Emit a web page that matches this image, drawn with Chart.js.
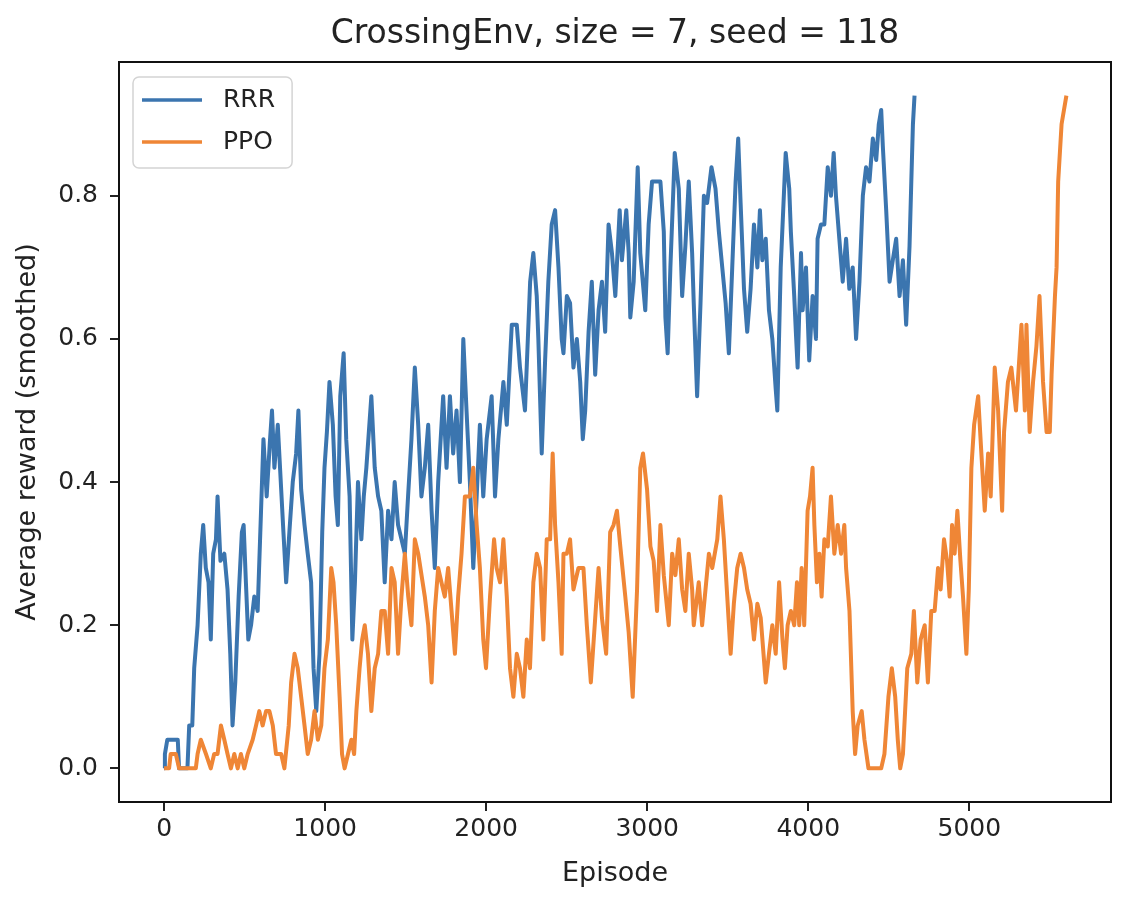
<!DOCTYPE html>
<html>
<head>
<meta charset="utf-8">
<title>CrossingEnv, size = 7, seed = 118</title>
<script src="https://cdn.jsdelivr.net/npm/chart.js@4.4.1/dist/chart.umd.min.js"></script>
<style>
  html, body { margin: 0; padding: 0; background: #fff; }
  #wrap { width: 1128px; height: 904px; }
</style>
</head>
<body>
<div id="wrap"><canvas id="grafico" width="1128" height="904"></canvas></div>
<script>
// [episode, smoothed reward]
const rrrData = [
  [0,0],[5,0.02],[20,0.04],[85,0.04],[93,0],[145,0],[156,0.06],[175,0.06],[187,0.14],[208,0.2],
  [228,0.3],[243,0.34],[259,0.28],[276,0.26],[290,0.18],[305,0.3],[322,0.32],[332,0.38],[350,0.29],[374,0.3],
  [394,0.25],[411,0.16],[425,0.06],[442,0.12],[463,0.24],[483,0.33],[494,0.34],[508,0.26],[523,0.18],[540,0.2],
  [560,0.24],[581,0.22],[602,0.36],[617,0.46],[637,0.38],[658,0.46],[670,0.5],[685,0.42],[706,0.48],[727,0.39],
  [741,0.33],[758,0.26],[778,0.33],[799,0.4],[820,0.44],[834,0.5],[851,0.39],[872,0.34],[892,0.3],[913,0.26],
  [928,0.14],[945,0.08],[965,0.16],[982,0.33],[996,0.42],[1011,0.47],[1027,0.54],[1048,0.48],[1065,0.38],[1079,0.34],
  [1094,0.52],[1115,0.58],[1131,0.46],[1152,0.38],[1169,0.18],[1185,0.26],[1204,0.4],[1225,0.32],[1240,0.38],[1256,0.42],
  [1287,0.52],[1308,0.42],[1329,0.38],[1349,0.36],[1370,0.26],[1391,0.36],[1412,0.32],[1432,0.4],[1453,0.34],[1474,0.32],
  [1495,0.3],[1515,0.38],[1536,0.46],[1557,0.56],[1578,0.48],[1598,0.38],[1619,0.42],[1640,0.48],[1661,0.36],[1681,0.28],
  [1702,0.4],[1733,0.52],[1754,0.42],[1775,0.52],[1795,0.44],[1816,0.5],[1837,0.4],[1858,0.6],[1878,0.5],[1899,0.4],
  [1920,0.28],[1941,0.38],[1961,0.48],[1982,0.38],[2003,0.46],[2034,0.52],[2055,0.38],[2076,0.46],[2107,0.54],[2128,0.48],
  [2159,0.62],[2190,0.62],[2210,0.56],[2241,0.5],[2273,0.68],[2293,0.72],[2314,0.66],[2324,0.6],[2345,0.44],[2366,0.57],
  [2386,0.68],[2407,0.76],[2428,0.78],[2449,0.7],[2469,0.6],[2480,0.58],[2501,0.66],[2521,0.65],[2542,0.56],[2563,0.6],
  [2584,0.54],[2600,0.46],[2615,0.5],[2636,0.61],[2656,0.68],[2677,0.55],[2698,0.64],[2719,0.68],[2739,0.61],[2760,0.76],
  [2781,0.72],[2802,0.66],[2829,0.78],[2843,0.71],[2870,0.78],[2885,0.72],[2895,0.63],[2916,0.68],[2941,0.84],[2957,0.72],
  [2988,0.64],[3009,0.76],[3030,0.82],[3057,0.82],[3082,0.82],[3103,0.75],[3113,0.63],[3127,0.58],[3144,0.7],[3171,0.86],
  [3196,0.81],[3217,0.66],[3237,0.73],[3258,0.82],[3279,0.72],[3289,0.65],[3310,0.52],[3331,0.65],[3352,0.8],[3372,0.79],
  [3399,0.84],[3424,0.81],[3445,0.75],[3466,0.7],[3487,0.65],[3507,0.58],[3528,0.7],[3549,0.82],[3565,0.88],[3580,0.79],
  [3601,0.67],[3621,0.61],[3642,0.67],[3663,0.76],[3684,0.7],[3700,0.78],[3715,0.71],[3736,0.74],[3756,0.64],[3777,0.6],
  [3798,0.53],[3808,0.5],[3829,0.7],[3860,0.86],[3882,0.81],[3892,0.75],[3913,0.66],[3923,0.61],[3934,0.56],[3955,0.72],
  [3965,0.64],[3986,0.7],[4006,0.57],[4027,0.66],[4048,0.6],[4058,0.74],[4079,0.76],[4100,0.76],[4121,0.84],[4141,0.8],
  [4158,0.86],[4172,0.8],[4193,0.74],[4214,0.68],[4235,0.74],[4255,0.67],[4276,0.7],[4297,0.6],[4318,0.68],[4339,0.8],
  [4359,0.84],[4380,0.82],[4401,0.88],[4422,0.85],[4438,0.9],[4453,0.92],[4463,0.87],[4484,0.78],[4505,0.68],[4525,0.71],
  [4546,0.74],[4567,0.66],[4588,0.71],[4608,0.62],[4629,0.73],[4640,0.82],[4650,0.9],[4660,0.94]
];

const ppoData = [
  [0,0],[31,0],[41,0.02],[73,0.02],[93,0],[197,0],[208,0.02],[228,0.04],[260,0.02],[290,0],
  [311,0.02],[332,0.02],[353,0.06],[374,0.04],[394,0.02],[415,0],[436,0.02],[457,0],[477,0.02],[498,0],
  [519,0.02],[550,0.04],[571,0.06],[591,0.08],[612,0.06],[633,0.08],[654,0.08],[675,0.06],[695,0.02],[727,0.02],
  [747,0],[774,0.06],[789,0.12],[810,0.16],[830,0.14],[851,0.1],[872,0.06],[892,0.02],[913,0.04],[934,0.08],
  [955,0.04],[976,0.06],[996,0.14],[1017,0.18],[1038,0.28],[1052,0.26],[1069,0.2],[1090,0.1],[1105,0.02],[1121,0],
  [1142,0.02],[1163,0.04],[1180,0.02],[1194,0.08],[1214,0.14],[1230,0.18],[1246,0.2],[1266,0.16],[1287,0.08],[1308,0.14],
  [1329,0.16],[1349,0.22],[1370,0.22],[1391,0.16],[1412,0.28],[1432,0.26],[1453,0.16],[1474,0.24],[1495,0.3],[1516,0.24],
  [1536,0.2],[1557,0.32],[1578,0.3],[1619,0.24],[1640,0.2],[1661,0.12],[1681,0.22],[1702,0.28],[1722,0.26],[1743,0.24],
  [1764,0.28],[1785,0.22],[1806,0.16],[1826,0.24],[1847,0.3],[1868,0.38],[1899,0.38],[1920,0.42],[1941,0.34],[1961,0.28],
  [1982,0.18],[1999,0.14],[2024,0.24],[2049,0.32],[2065,0.28],[2086,0.26],[2107,0.32],[2128,0.24],[2148,0.14],[2169,0.1],
  [2190,0.16],[2210,0.14],[2231,0.1],[2252,0.18],[2272,0.14],[2293,0.26],[2314,0.3],[2335,0.28],[2355,0.18],[2376,0.32],
  [2397,0.32],[2413,0.44],[2428,0.34],[2449,0.26],[2469,0.16],[2480,0.3],[2501,0.3],[2521,0.32],[2542,0.25],[2573,0.28],
  [2604,0.28],[2625,0.2],[2650,0.12],[2677,0.21],[2698,0.28],[2719,0.21],[2745,0.16],[2770,0.33],[2791,0.34],[2812,0.36],
  [2833,0.31],[2864,0.24],[2885,0.19],[2910,0.1],[2937,0.25],[2957,0.42],[2974,0.44],[2999,0.39],[3020,0.31],[3040,0.29],
  [3061,0.22],[3082,0.34],[3103,0.27],[3134,0.2],[3155,0.3],[3175,0.27],[3196,0.32],[3217,0.25],[3237,0.22],[3258,0.3],
  [3279,0.25],[3289,0.2],[3320,0.26],[3341,0.2],[3362,0.25],[3383,0.3],[3404,0.28],[3435,0.32],[3455,0.38],[3476,0.32],
  [3497,0.24],[3518,0.16],[3538,0.23],[3559,0.28],[3580,0.3],[3601,0.28],[3621,0.25],[3642,0.23],[3663,0.18],[3684,0.23],
  [3705,0.21],[3736,0.12],[3756,0.16],[3777,0.2],[3798,0.16],[3819,0.26],[3840,0.18],[3855,0.14],[3872,0.2],[3892,0.22],
  [3913,0.2],[3930,0.26],[3944,0.2],[3959,0.28],[3975,0.2],[3996,0.36],[4011,0.38],[4027,0.42],[4038,0.34],[4054,0.26],
  [4069,0.3],[4083,0.24],[4100,0.32],[4121,0.31],[4141,0.38],[4162,0.3],[4183,0.34],[4204,0.3],[4224,0.34],[4235,0.28],
  [4256,0.22],[4276,0.08],[4291,0.02],[4307,0.06],[4332,0.08],[4349,0.04],[4374,0],[4453,0],[4473,0.02],[4498,0.1],
  [4519,0.14],[4540,0.1],[4556,0.04],[4571,0],[4588,0.02],[4615,0.14],[4640,0.16],[4656,0.22],[4677,0.12],[4698,0.18],
  [4723,0.2],[4743,0.12],[4764,0.22],[4785,0.22],[4806,0.28],[4822,0.25],[4843,0.32],[4862,0.29],[4878,0.24],[4893,0.34],
  [4909,0.3],[4926,0.36],[4945,0.29],[4961,0.24],[4982,0.16],[4997,0.25],[5013,0.42],[5030,0.48],[5055,0.52],[5075,0.44],
  [5096,0.36],[5117,0.44],[5133,0.38],[5158,0.56],[5179,0.5],[5204,0.36],[5216,0.47],[5240,0.54],[5261,0.56],[5290,0.5],
  [5324,0.62],[5345,0.5],[5355,0.62],[5375,0.47],[5396,0.54],[5417,0.59],[5436,0.66],[5458,0.54],[5480,0.47],[5500,0.47],
  [5511,0.55],[5532,0.66],[5542,0.7],[5552,0.82],[5573,0.9],[5603,0.94]
];

const seriesNames = ['RRR', 'PPO'];
const seriesColors = ['#3b75af', '#ef8636'];
const xTicks = [0, 1000, 2000, 3000, 4000, 5000];
const yTicks = [0, 0.2, 0.4, 0.6, 0.8];

Chart.defaults.font.family = '"DejaVu Sans", sans-serif';
Chart.defaults.color = '#222';

// box round the plot plus a matplotlib-like legend in the upper left corner
const frame = {
    id: 'frame',
    afterDatasetsDraw(chart) {
        const { ctx, chartArea: a } = chart;
        ctx.save();
        ctx.strokeStyle = '#111';
        ctx.lineWidth = 2;
        ctx.strokeRect(a.left, a.top, a.right - a.left, a.bottom - a.top);

        ctx.font = '25px "DejaVu Sans"';
        const sets = chart.data.datasets;
        const textW = Math.max(...sets.map(d => ctx.measureText(d.label).width));
        const bx = a.left + 14, by = a.top + 15;
        ctx.beginPath();
        ctx.roundRect(bx, by, 90 + textW + 17, 91, 6);
        ctx.fillStyle = 'rgba(255,255,255,0.8)';
        ctx.fill();
        ctx.strokeStyle = '#d4d4d4';
        ctx.lineWidth = 1.5;
        ctx.stroke();
        sets.forEach((d, i) => {
            const y = by + 23 + i * 42;
            ctx.strokeStyle = d.borderColor;
            ctx.lineWidth = 3.5;
            ctx.beginPath();
            ctx.moveTo(bx + 9, y);
            ctx.lineTo(bx + 69, y);
            ctx.stroke();
            ctx.fillStyle = '#222';
            ctx.textBaseline = 'middle';
            ctx.fillText(d.label, bx + 90, y);
        });
        ctx.restore();
    }
};

const axisGrid = { drawOnChartArea: false, drawTicks: true, tickLength: 9, color: '#222', lineWidth: 2 };

new Chart(document.getElementById('grafico'), {
    type: 'line',
    data: {
        datasets: [
            { label: seriesNames[0], data: rrrData.map(p => ({ x: p[0], y: p[1] })), borderColor: seriesColors[0], borderWidth: 4, order: 2 },
            { label: seriesNames[1], data: ppoData.map(p => ({ x: p[0], y: p[1] })), borderColor: seriesColors[1], borderWidth: 4, order: 1 }
        ]
    },
    options: {
        responsive: false,
        animation: false,
        events: [],
        elements: {
            point: { radius: 0 },
            line: { tension: 0, borderJoinStyle: 'round', fill: false }
        },
        layout: { padding: { left: 0, right: 17, top: 0, bottom: 0 } },
        plugins: {
            legend: { display: false },
            tooltip: { enabled: false },
            title: {
                display: true,
                fullSize: false,
                text: 'CrossingEnv, size = 7, seed = 118',
                color: '#222',
                font: { size: 33, weight: 'normal' },
                padding: { top: 15, bottom: 7.4 }
            }
        },
        scales: {
            x: {
                type: 'linear',
                min: -280,
                max: 5880,
                afterBuildTicks: s => { s.ticks = xTicks.map(v => ({ value: v })); },
                afterFit: s => { s.height = 102; },
                grid: axisGrid,
                border: { display: false },
                ticks: { font: { size: 25 }, padding: 3, maxRotation: 0, autoSkip: false, callback: v => String(v) },
                title: { display: true, text: 'Episode', font: { size: 27 }, padding: { top: 0, bottom: 14 } }
            },
            y: {
                min: -0.047,
                max: 0.987,
                afterBuildTicks: s => { s.ticks = yTicks.map(v => ({ value: v })); },
                afterFit: s => { s.width = 119; },
                grid: axisGrid,
                border: { display: false },
                ticks: { font: { size: 25 }, padding: 12, autoSkip: false, callback: v => v.toFixed(1) },
                title: { display: true, text: 'Average reward (smoothed)', font: { size: 27 }, padding: { top: 12, bottom: 0 } }
            }
        }
    },
    plugins: [frame]
});
</script>
</body>
</html>
